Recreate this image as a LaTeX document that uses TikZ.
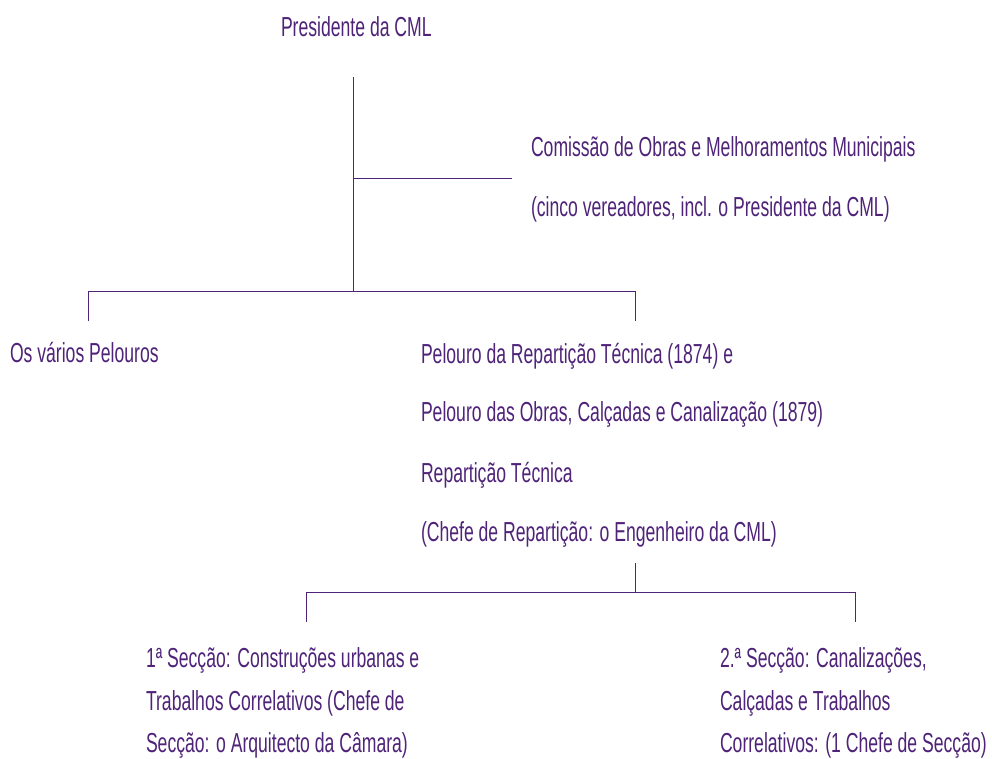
\documentclass[tikz,border=0pt]{standalone}
\usepackage{fontspec}
\setmainfont[FakeStretch=0.64]{Liberation Sans}
\definecolor{pur}{HTML}{4E2378}
\begin{document}
\begin{tikzpicture}[x=1pt,y=-1pt,
  lbl/.style={anchor=base west,inner sep=0pt,outer sep=0pt,text=pur,font=\fontsize{27.5}{30}\selectfont},
  con/.style={draw=pur,line width=1pt}]
\useasboundingbox (0,0) rectangle (992,759);
% texts
\node[lbl] (pres) at (281,37) {Presidente da CML};
\node[lbl] (com1) at (531,157) {Comissão de Obras e Melhoramentos Municipais};
\node[lbl] (com2) at (531,217) {(cinco vereadores, incl. o Presidente da CML)};
\node[lbl] (pel) at (10,362) {Os vários Pelouros};
\node[lbl] (rep1) at (421,363) {Pelouro da Repartição Técnica (1874) e};
\node[lbl] (rep2) at (421,421) {Pelouro das Obras, Calçadas e Canalização (1879)};
\node[lbl] (rep3) at (421,482) {Repartição Técnica};
\node[lbl] (rep4) at (421,541) {(Chefe de Repartição: o Engenheiro da CML)};
\node[lbl] (s1a) at (146,667) {1ª Secção: Construções urbanas e};
\node[lbl] (s1b) at (146,710) {Trabalhos Correlativos (Chefe de};
\node[lbl] (s1c) at (146,752) {Secção: o Arquitecto da Câmara)};
\node[lbl] (s2a) at (720,667) {2.ª Secção: Canalizações,};
\node[lbl] (s2b) at (720,710) {Calçadas e Trabalhos};
\node[lbl] (s2c) at (720,752) {Correlativos: (1 Chefe de Secção)};
% connector points
\coordinate (t0) at (353,77);
\coordinate (tc) at (353,179);
\coordinate (ce) at (512,179);
\coordinate (tb) at (353,291);
\coordinate (bl) at (88,291);
\coordinate (br) at (635,291);
\coordinate (dl) at (88,321);
\coordinate (dr) at (635,321);
\coordinate (u0) at (635,563);
\coordinate (ub) at (635,592);
\coordinate (ul) at (306,592);
\coordinate (ur) at (855,592);
\coordinate (el) at (306,622);
\coordinate (er) at (855,622);
% connectors
\draw[con] (t0) -- (tb);
\draw[con] (tc) -- (ce);
\draw[con] (dl) -- (bl) -- (br) -- (dr);
\draw[con] (u0) -- (ub);
\draw[con] (el) -- (ul) -- (ur) -- (er);
\end{tikzpicture}
\end{document}
